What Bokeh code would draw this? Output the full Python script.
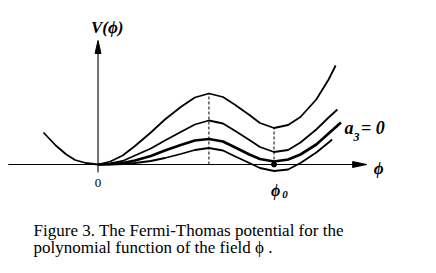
from bokeh.plotting import figure
from bokeh.models import Range1d
from bokeh.core.properties import value
from bokeh.embed import file_html
from bokeh.resources import INLINE

# ---- data (phi in units of phi0, V arbitrary units) ----
phi_left = [-0.31, -0.24, -0.18, -0.13, -0.07]
v_left = [0.32, 0.19, 0.10, 0.045, 0.015]

phi_common = [0.00, 0.07, 0.14, 0.21, 0.30, 0.38, 0.47, 0.55, 0.63, 0.71,
              0.78, 0.86, 0.92, 1.00, 1.08, 1.15, 1.24, 1.31]

v_curve1 = [0, 0.03, 0.09, 0.185, 0.32, 0.45, 0.575, 0.67, 0.71, 0.675,
            0.595, 0.495, 0.415, 0.365, 0.395, 0.475, 0.65, 0.85]
end1 = (1.35, 0.99)

v_curve2 = [0, 0.01, 0.035, 0.09, 0.16, 0.24, 0.325, 0.40, 0.44, 0.41,
            0.335, 0.245, 0.175, 0.125, 0.145, 0.22, 0.35, 0.47]
end2 = (1.36, 0.55)

v_curve3 = [0, 0.005, 0.015, 0.04, 0.085, 0.14, 0.195, 0.24, 0.255, 0.23,
            0.17, 0.10, 0.055, 0.03, 0.05, 0.10, 0.20, 0.31]
end3 = (1.38, 0.42)

v_curve4 = [0, 0, 0.005, 0.015, 0.035, 0.065, 0.105, 0.145, 0.165, 0.14,
            0.08, 0.015, -0.035, -0.065, -0.05, 0.015, 0.12, 0.22]
end4 = (1.33, 0.25)

phi_peak = 0.63
v_peak = 0.71
phi_0 = 1.00
v_min_top = 0.365

caption1 = "Figure 3. The Fermi-Thomas potential for the"
caption2 = "polynomial function of the field \u03d5 ."

# ---- figure ----
PX_PER_PHI = 176.0
PX_PER_V = 100.0

p = figure(width=420, height=257,
           x_range=Range1d(-0.554, 1.832), y_range=Range1d(-0.93, 1.64),
           x_axis_type=None, y_axis_type=None,
           output_backend="svg", toolbar_location=None, min_border=0)
p.grid.visible = False
p.outline_line_color = None
p.background_fill_color = "white"
p.border_fill_color = "white"

# axes
x_tip = 1.526
y_tip = 1.24
p.line([-0.51, x_tip - 0.05], [0, 0], line_color="black", line_width=1.1)
p.line([0, 0], [-0.08, y_tip - 0.05], line_color="black", line_width=1.1)
hl = 14 / PX_PER_PHI
hw = 3 / PX_PER_V
p.patch([x_tip, x_tip - hl, x_tip - hl], [0, hw, -hw], color="black")
vl = 13 / PX_PER_V
vw = 3 / PX_PER_PHI
p.patch([0, -vw, vw], [y_tip, y_tip - vl, y_tip - vl], color="black")

# dashed guides
p.line([phi_peak, phi_peak], [0, v_peak], line_color="black", line_width=1,
       line_dash="3 2")
p.line([phi_0, phi_0], [0, v_min_top], line_color="black", line_width=1,
       line_dash="3 2")

# curves
x1 = phi_left + phi_common + [end1[0]]
y1 = v_left + v_curve1 + [end1[1]]
p.line(x1, y1, line_color="black", line_width=1.8, line_join="round")
p.line(phi_common + [end2[0]], v_curve2 + [end2[1]], line_color="black",
       line_width=1.8, line_join="round")
p.line(phi_common + [end3[0]], v_curve3 + [end3[1]], line_color="black",
       line_width=2.7, line_join="round")
p.line(phi_common + [end4[0]], v_curve4 + [end4[1]], line_color="black",
       line_width=1.8, line_join="round")

p.scatter([phi_0], [0], size=5, color="black")

serif = value("Liberation Serif")

def txt(x, y, s, size, style="normal", align="left", baseline="alphabetic"):
    p.text([x], [y], text=[s], text_font=serif, text_font_size=size,
           text_font_style=style, text_align=align, text_baseline=baseline,
           text_color="black")

txt(0.052, 1.373, "V(\u03d5)", "17px", "bold italic", "center", "middle")
txt(0.0, -0.185, "0", "13px", "normal", "center", "middle")
txt(1.594, -0.04, "\u03d5", "17px", "bold italic", "center", "middle")
txt(1.009, -0.26, "\u03d5", "16px", "bold italic", "center", "middle")
txt(1.0625, -0.30, "0", "11px", "bold italic", "center", "middle")
txt(1.40, 0.365, "a", "18px", "bold italic")
txt(1.452, 0.28, "3", "12px", "bold italic")
txt(1.494, 0.365, "= 0", "18px", "bold italic")
txt(-0.366, -0.655, caption1, "17px")
txt(-0.366, -0.825, caption2, "17px")

open("out.html", "w").write(file_html(p, INLINE))
